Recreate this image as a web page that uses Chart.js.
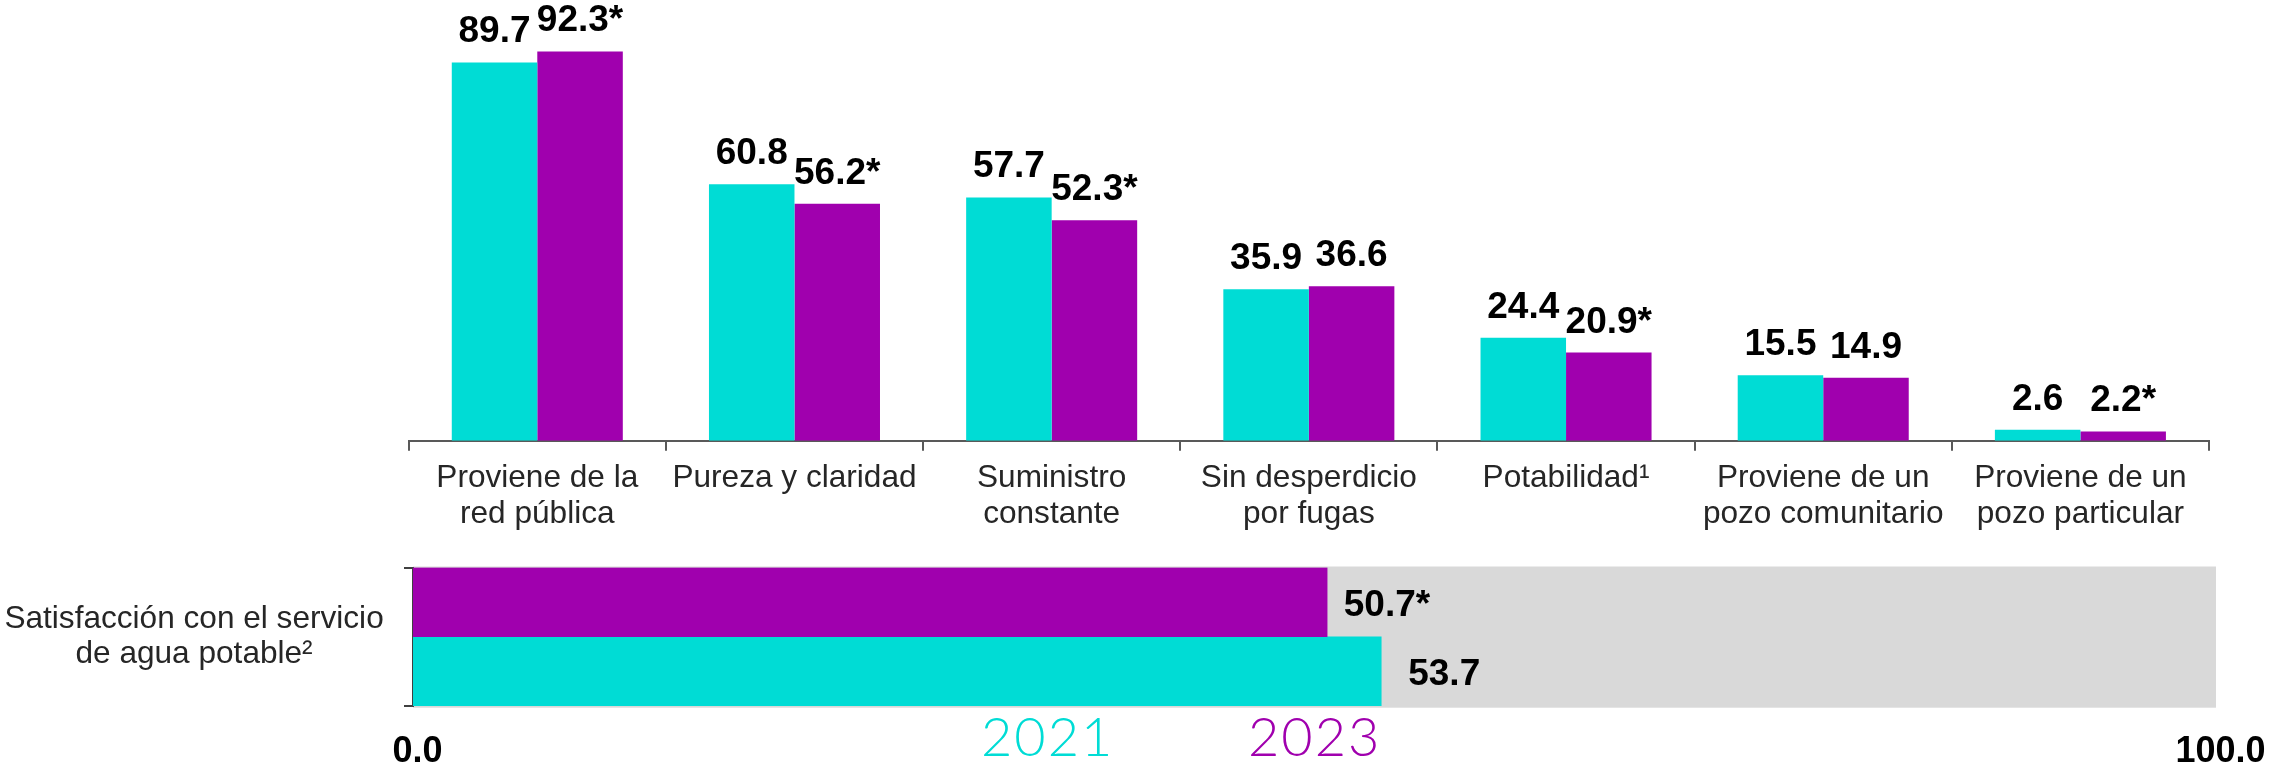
<!DOCTYPE html>
<html><head><meta charset="utf-8">
<script src="https://cdn.jsdelivr.net/npm/chart.js@4.4.1/dist/chart.umd.min.js"></script>
<style>
html,body{margin:0;padding:0;background:#fff;}
#wrap{position:relative;width:2271px;height:768px;overflow:hidden;background:#fff;}
#c1{position:absolute;left:0;top:0;}
#c2{position:absolute;left:0;top:540px;}
</style></head><body>
<div id="wrap"><canvas id="c1" width="2271" height="540"></canvas><canvas id="c2" width="2271" height="228"></canvas></div>
<script>
const categories = [["Proviene de la","red pública"],["Pureza y claridad"],["Suministro","constante"],["Sin desperdicio","por fugas"],["Potabilidad¹"],["Proviene de un","pozo comunitario"],["Proviene de un","pozo particular"]];
const values2021 = [89.7,60.8,57.7,35.9,24.4,15.5,2.6];
const values2023 = [92.3,56.2,52.3,36.6,20.9,14.9,2.2];
const signif2023 = [true,true,true,false,true,false,true];
const satisfactionLabel = [["Satisfacción con el servicio","de agua potable²"]];
const satisfaction2021 = [53.7];
const satisfaction2023 = [50.7];
const satisfactionSignif2023 = [true];
const xTicksBottom = [0,100];
const seriesNames = ["2021","2023"];

const CYAN = '#00DCD5';
const PURPLE = '#A000AE';
const FONT = "'Liberation Sans', Arial, sans-serif";

function fmt(v, sig){ return v.toFixed(1) + (sig ? '*' : ''); }

const topLabels = {
  id:'topLabels',
  afterDatasetsDraw(chart){
    const ctx = chart.ctx; ctx.save();
    ctx.font = 'bold 37px ' + FONT; ctx.fillStyle = '#000';
    ctx.textAlign = 'center'; ctx.textBaseline = 'alphabetic';
    chart.data.datasets.forEach((ds,di)=>{
      chart.getDatasetMeta(di).data.forEach((el,i)=>{
        ctx.fillText(fmt(ds.data[i], ds.signif && ds.signif[i]), el.x, el.y - 20);
      });
    });
    ctx.restore();
  }
};

const bgFill = {
  id:'bgFill',
  beforeDraw(chart){
    const {ctx, chartArea:a} = chart; ctx.save();
    ctx.fillStyle = '#D9D9D9';
    ctx.fillRect(a.left, a.top - 1, a.right - a.left, a.bottom - a.top + 2.7);
    ctx.restore();
  }
};

const bottomLabels = {
  id:'bottomLabels',
  afterDatasetsDraw(chart){
    const ctx = chart.ctx; ctx.save();
    ctx.font = 'bold 37px ' + FONT; ctx.fillStyle = '#000';
    ctx.textAlign = 'left'; ctx.textBaseline = 'alphabetic';
    chart.data.datasets.forEach((ds,di)=>{
      chart.getDatasetMeta(di).data.forEach((el,i)=>{
        ctx.fillText(fmt(ds.data[i], ds.signif && ds.signif[i]), el.x + ds.labelGap, el.y + 13.4);
      });
    });
    ctx.restore();
  }
};

const legendText = {
  id:'legendText',
  afterDraw(chart){
    const ctx = chart.ctx; ctx.save();
    ctx.font = "300 54px Lato, 'Open Sans', sans-serif";
    try { ctx.letterSpacing = '2px'; } catch(e) {}
    ctx.textAlign = 'left'; ctx.textBaseline = 'alphabetic';
    ctx.fillStyle = CYAN; ctx.fillText(seriesNames[0], 981, 215.7);
    ctx.fillStyle = PURPLE; ctx.fillText(seriesNames[1], 1248, 215.7);
    ctx.restore();
  }
};

new Chart(document.getElementById('c1'), {
  type:'bar',
  data:{labels:categories, datasets:[
    {label:seriesNames[0], data:values2021, backgroundColor:CYAN},
    {label:seriesNames[1], data:values2023, backgroundColor:PURPLE, signif:signif2023}
  ]},
  options:{
    responsive:false, animation:false,
    layout:{padding:{left:408.7, right:62, top:19, bottom:0}},
    plugins:{legend:{display:false}, tooltip:{enabled:false}},
    datasets:{bar:{categoryPercentage:0.665, barPercentage:1}},
    scales:{
      x:{
        grid:{display:true, offset:true, drawOnChartArea:false, drawTicks:true, tickLength:10, color:'#595959', lineWidth:2},
        border:{display:true, color:'#595959', width:2},
        ticks:{color:'#262626', font:{family:FONT, size:31.6, lineHeight:1.13}, padding:10, maxRotation:0, autoSkip:false},
        afterFit(s){ s.height = 99.3; s.paddingLeft = 0; s.paddingRight = 0; }
      },
      y:{display:false, min:0, max:100}
    }
  },
  plugins:[topLabels]
});

new Chart(document.getElementById('c2'), {
  type:'bar',
  data:{labels:satisfactionLabel, datasets:[
    {label:seriesNames[1], data:satisfaction2023, backgroundColor:PURPLE, signif:satisfactionSignif2023, labelGap:16.6},
    {label:seriesNames[0], data:satisfaction2021, backgroundColor:CYAN, labelGap:27}
  ]},
  options:{
    indexAxis:'y', responsive:false, animation:false,
    layout:{padding:{left:0, right:55, top:27.5, bottom:0}},
    plugins:{legend:{display:false}, tooltip:{enabled:false}},
    datasets:{bar:{categoryPercentage:1, barPercentage:1}},
    scales:{
      x:{
        min:0, max:100,
        afterBuildTicks(s){ s.ticks = xTicksBottom.map(v=>({value:v})); },
        grid:{display:false, drawTicks:false}, border:{display:false},
        ticks:{color:'#000', font:{family:FONT, size:36, weight:'bold', lineHeight:1.2}, padding:24.4, labelOffset:4.5,
               callback:(v)=>Number(v).toFixed(1), maxRotation:0, autoSkip:false},
        afterFit(s){ s.height = 62; s.paddingLeft = 0; s.paddingRight = 0; }
      },
      y:{
        grid:{display:true, offset:true, drawOnChartArea:false, drawTicks:true, tickLength:9, color:'#404040', lineWidth:2},
        border:{display:true, color:'#404040', width:2},
        ticks:{color:'#262626', font:{family:FONT, size:31.6, lineHeight:1.127}, crossAlign:'center', padding:20.3},
        afterFit(s){ s.width = 413; s.paddingTop = 0; s.paddingBottom = 0; }
      }
    }
  },
  plugins:[bgFill, bottomLabels, legendText]
});
</script>
</body></html>
